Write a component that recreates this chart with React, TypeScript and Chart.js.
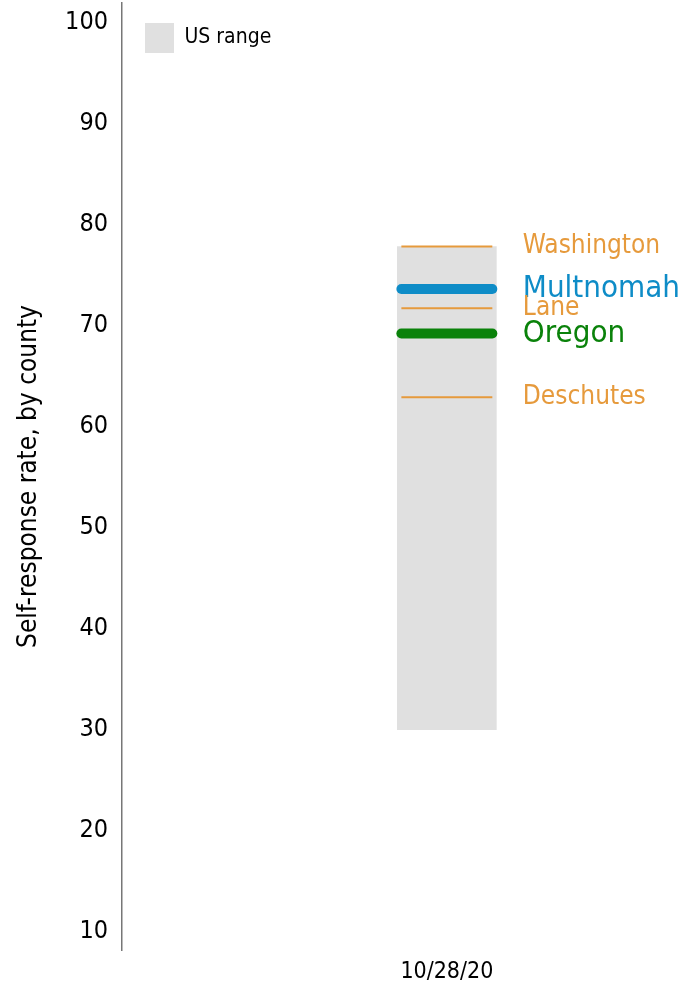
import React, { useEffect, useRef } from "react";
import { Chart, registerables } from "chart.js";

Chart.register(...registerables);

// ---- data ----
const dateLabel = "10/28/20";
const datePosition = 1;
const usRangeLabel = "US range";
const usRange: [number, number] = [30.0, 77.8];
const counties = ["Washington", "Multnomah", "Lane", "Oregon", "Deschutes"];
const rates = [77.8, 73.6, 71.7, 69.2, 62.9];
const yTicks = [10, 20, 30, 40, 50, 60, 70, 80, 90, 100];
const yTitle = "Self-response rate, by county";

// ---- styles ----
const FONT = "'DejaVu Sans Condensed', 'DejaVu Sans', sans-serif";
const ORANGE = "#e69a3c";
const BLUE = "#0e8cc7";
const GREEN = "#0a820a";
const GRAY = "#e0e0e0";
const lineStyle: Record<string, { color: string; width: number; font: number; cap: CanvasLineCap }> = {
  Washington: { color: ORANGE, width: 2, font: 26, cap: "butt" },
  Multnomah: { color: BLUE, width: 10, font: 31, cap: "round" },
  Lane: { color: ORANGE, width: 2, font: 26, cap: "butt" },
  Oregon: { color: GREEN, width: 10, font: 31, cap: "round" },
  Deschutes: { color: ORANGE, width: 2, font: 26, cap: "butt" },
};
const HALF_SPAN = 0.14;

const labelPlugin = {
  id: "lineLabels",
  afterDatasetsDraw(chart: any) {
    const ctx = chart.ctx;
    const xs = chart.scales.x;
    const labelX = xs.getPixelForValue(datePosition) + 76;
    chart.data.datasets.forEach((ds: any, i: number) => {
      if (ds.type !== "line") return;
      const meta = chart.getDatasetMeta(i);
      const pt = meta.data[meta.data.length - 1];
      const st = lineStyle[ds.label];
      ctx.save();
      ctx.font = `${st.font}px ${FONT}`;
      ctx.fillStyle = st.color;
      ctx.textBaseline = "middle";
      ctx.textAlign = "left";
      ctx.fillText(ds.label, labelX, pt.y);
      ctx.restore();
    });
  },
};

export default function App() {
  const ref = useRef<HTMLCanvasElement>(null);
  useEffect(() => {
    if (!ref.current) return;
    const lineSets = counties.map((name, i) => ({
      type: "line" as const,
      label: name,
      data: [
        { x: datePosition - HALF_SPAN, y: rates[i] },
        { x: datePosition + HALF_SPAN, y: rates[i] },
      ],
      borderColor: lineStyle[name].color,
      borderWidth: lineStyle[name].width,
      borderCapStyle: lineStyle[name].cap,
      pointRadius: 0,
      fill: false,
      order: name === "Multnomah" || name === "Oregon" ? 0 : 1,
    }));
    const chart = new Chart(ref.current, {
      type: "bar",
      data: {
        datasets: [
          {
            type: "bar" as const,
            label: usRangeLabel,
            data: [{ x: datePosition, y: usRange }] as any,
            backgroundColor: GRAY,
            borderWidth: 0,
            barThickness: 99,
            order: 10,
          },
          ...lineSets,
        ] as any,
      },
      options: {
        responsive: false,
        animation: false,
        layout: { padding: { top: 3, right: 8, left: 0, bottom: 0 } },
        plugins: {
          tooltip: { enabled: false },
          legend: {
            position: "chartArea",
            align: "start",
            labels: {
              filter: (item: any) => item.text === usRangeLabel,
              boxWidth: 29,
              boxHeight: 30,
              padding: 23,
              color: "#000",
              font: { family: FONT, size: 21 },
            },
          },
        },
        scales: {
          x: {
            type: "linear",
            min: 0,
            max: 1.73,
            offset: false,
            grid: { display: false, drawTicks: false },
            border: { display: false },
            afterBuildTicks: (s: any) => {
              s.ticks = [{ value: datePosition }];
            },
            afterFit: (s: any) => {
              s.height = 37;
              s.paddingLeft = 0;
              s.paddingRight = 0;
            },
            ticks: {
              callback: () => dateLabel,
              color: "#000",
              padding: 8,
              maxRotation: 0,
              font: { family: FONT, size: 23 },
            },
          },
          y: {
            type: "linear",
            min: 8.2,
            max: 101.9,
            grid: { display: false, drawTicks: false },
            border: { display: true, color: "#777", width: 1.5 },
            afterBuildTicks: (s: any) => {
              s.ticks = yTicks.map((v) => ({ value: v }));
            },
            afterFit: (s: any) => {
              s.width = 122;
              s.paddingTop = 0;
              s.paddingBottom = 0;
            },
            ticks: {
              color: "#000",
              padding: 14,
              font: { family: FONT, size: 25 },
            },
            title: {
              display: true,
              text: yTitle,
              color: "#000",
              padding: { top: 14, bottom: 0 },
              font: { family: FONT, size: 26 },
            },
          },
        },
      },
      plugins: [labelPlugin],
    });
    return () => chart.destroy();
  }, []);
  return (
    <canvas
      ref={ref}
      width={692}
      height={987}
      style={{ position: "absolute", left: 0, top: 0, display: "block" }}
    />
  );
}
